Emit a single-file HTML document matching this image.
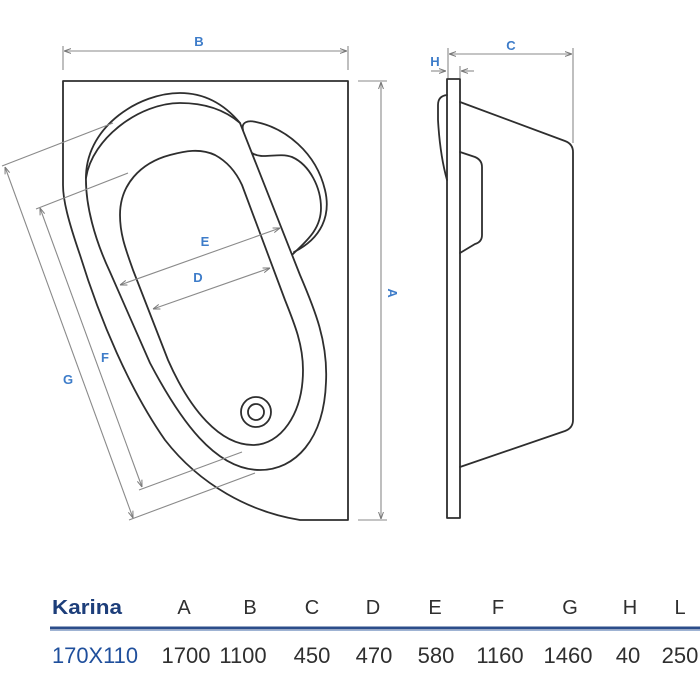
<!DOCTYPE html>
<html>
<head>
<meta charset="utf-8">
<style>
  html,body{margin:0;padding:0;background:#fff;}
  svg{display:block;}
  .o{fill:none;stroke:#2e2e2e;stroke-width:1.8;stroke-linejoin:round;stroke-linecap:round;}
  .d{fill:none;stroke:#8a8a8a;stroke-width:1.1;}
  .lbl{font-family:"Liberation Sans",sans-serif;font-weight:bold;fill:#3d7cc9;font-size:13px;}
  .hd{font-family:"Liberation Sans",sans-serif;fill:#2f2f2f;font-size:20px;}
  .val{font-family:"Liberation Sans",sans-serif;fill:#2f2f2f;font-size:22px;}
</style>
</head>
<body>
<svg width="700" height="700" viewBox="0 0 700 700" xmlns="http://www.w3.org/2000/svg">
  <defs>
    <marker id="ar" viewBox="0 0 10 10" refX="10" refY="5" markerWidth="7" markerHeight="7" orient="auto-start-reverse" markerUnits="userSpaceOnUse">
      <path d="M0,1.5 L10,5 L0,8.5" fill="none" stroke="#777" stroke-width="1.4"/>
    </marker>
  </defs>

  <!-- ===== Top view ===== -->
  <!-- outer deck shape -->
  <path class="o" d="M63,81 H348 V520 H300 C250,512 200,485 165,440 C130,390 100,320 80,255 C68,220 63,200 63,185 Z"/>

  <!-- rim outer line -->
  <path class="o" d="M240,123 L300,275 C315,310 328,342 326,382 C324,440 295,470 260,470 C215,470 180,420 150,363 L110,272 C95,240 85,205 86,175 C88,125 140,93 180,93 C205,93 225,105 240,123 Z"/>
  <!-- rim inner top line (double) -->
  <path class="o" d="M86,178 C92,138 140,103 180,103 C205,103 225,110 240,123"/>

  <!-- basin -->
  <path class="o" d="M120,215 C120,185 140,163 170,155 C185,151 200,148 215,155 C228,162 236,172 242,185 L285,300 C295,325 303,345 303,370 C303,415 280,445 253,445 C220,445 190,410 168,360 L133,270 C126,250 120,235 120,215 Z"/>

  <!-- headrest -->
  <path class="o" d="M243,130 C241,122 248,120 256,122 C285,128 316,152 325,190 C331,215 322,238 294,252"/>
  <path class="o" d="M252,153 C262,160 278,152 292,157 C310,165 321,188 321,208 C321,230 305,242 293,254"/>

  <!-- drain -->
  <circle class="o" cx="256" cy="412" r="15" stroke-width="1.6"/>
  <circle class="o" cx="256" cy="412" r="8" stroke-width="1.6"/>

  <!-- B dimension -->
  <line class="d" x1="63" y1="46" x2="63" y2="70"/>
  <line class="d" x1="348" y1="46" x2="348" y2="70"/>
  <line class="d" x1="64" y1="51" x2="347" y2="51" marker-start="url(#ar)" marker-end="url(#ar)"/>
  <text class="lbl" x="199" y="46" text-anchor="middle">B</text>

  <!-- A dimension -->
  <line class="d" x1="358" y1="81" x2="387" y2="81"/>
  <line class="d" x1="358" y1="520" x2="387" y2="520"/>
  <line class="d" x1="381" y1="82" x2="381" y2="519" marker-start="url(#ar)" marker-end="url(#ar)"/>
  <text class="lbl" x="0" y="0" text-anchor="middle" transform="translate(388,293) rotate(90)">A</text>

  <!-- G dimension -->
  <line class="d" x1="2" y1="166" x2="113" y2="123"/>
  <line class="d" x1="129" y1="520" x2="255" y2="473"/>
  <line class="d" x1="5" y1="167" x2="133" y2="518" marker-start="url(#ar)" marker-end="url(#ar)"/>
  <text class="lbl" x="68" y="384" text-anchor="middle">G</text>

  <!-- F dimension -->
  <line class="d" x1="36" y1="209" x2="128" y2="173"/>
  <line class="d" x1="139" y1="490" x2="242" y2="452"/>
  <line class="d" x1="40" y1="208" x2="142" y2="487" marker-start="url(#ar)" marker-end="url(#ar)"/>
  <text class="lbl" x="105" y="362" text-anchor="middle">F</text>

  <!-- E dimension -->
  <line class="d" x1="120" y1="285" x2="280" y2="228" marker-start="url(#ar)" marker-end="url(#ar)"/>
  <text class="lbl" x="205" y="246" text-anchor="middle">E</text>

  <!-- D dimension -->
  <line class="d" x1="153" y1="309" x2="270" y2="268" marker-start="url(#ar)" marker-end="url(#ar)"/>
  <text class="lbl" x="198" y="282" text-anchor="middle">D</text>

  <!-- ===== Side view ===== -->
  <rect class="o" x="447" y="79" width="13" height="439"/>
  <path class="o" d="M460,102 L565,141 Q573,144 573,152 L573,420 Q573,428 565,431 L460,467"/>
  <path class="o" d="M460,152 L475,157 Q482,160 482,167 L482,235 Q482,242 475,244 L460,253"/>
  <path class="o" d="M447,95 Q438,96 438,105 L438,120 Q440,155 447,180"/>

  <!-- C dimension -->
  <line class="d" x1="573" y1="48" x2="573" y2="143"/>
  <line class="d" x1="448" y1="48" x2="448" y2="78"/>
  <line class="d" x1="449" y1="54" x2="572" y2="54" marker-start="url(#ar)" marker-end="url(#ar)"/>
  <text class="lbl" x="511" y="50" text-anchor="middle">C</text>

  <!-- H dimension -->
  <line class="d" x1="460" y1="66" x2="460" y2="78"/>
  <line class="d" x1="431" y1="71" x2="446" y2="71" marker-end="url(#ar)"/>
  <line class="d" x1="474" y1="71" x2="461" y2="71" marker-end="url(#ar)"/>
  <text class="lbl" x="435" y="66" text-anchor="middle">H</text>

  <!-- ===== Table ===== -->
  <text x="52" y="614" font-family="Liberation Sans, sans-serif" font-weight="bold" font-size="20" fill="#1d3e7a" textLength="70" lengthAdjust="spacingAndGlyphs">Karina</text>
  <text class="hd" x="184" y="614" text-anchor="middle">A</text>
  <text class="hd" x="250" y="614" text-anchor="middle">B</text>
  <text class="hd" x="312" y="614" text-anchor="middle">C</text>
  <text class="hd" x="373" y="614" text-anchor="middle">D</text>
  <text class="hd" x="435" y="614" text-anchor="middle">E</text>
  <text class="hd" x="498" y="614" text-anchor="middle">F</text>
  <text class="hd" x="570" y="614" text-anchor="middle">G</text>
  <text class="hd" x="630" y="614" text-anchor="middle">H</text>
  <text class="hd" x="680" y="614" text-anchor="middle">L</text>

  <line x1="50" y1="628" x2="700" y2="628" stroke="#2b4d8a" stroke-width="3"/>
  <line x1="50" y1="630.5" x2="700" y2="630.5" stroke="#9fb3d3" stroke-width="1"/>

  <text x="52" y="663" font-family="Liberation Sans, sans-serif" font-size="22" fill="#1f4f9c" textLength="86" lengthAdjust="spacingAndGlyphs">170X110</text>
  <text class="val" x="186" y="663" text-anchor="middle">1700</text>
  <text class="val" x="243" y="663" text-anchor="middle">1100</text>
  <text class="val" x="312" y="663" text-anchor="middle">450</text>
  <text class="val" x="374" y="663" text-anchor="middle">470</text>
  <text class="val" x="436" y="663" text-anchor="middle">580</text>
  <text class="val" x="500" y="663" text-anchor="middle">1160</text>
  <text class="val" x="568" y="663" text-anchor="middle">1460</text>
  <text class="val" x="628" y="663" text-anchor="middle">40</text>
  <text class="val" x="680" y="663" text-anchor="middle">250</text>
</svg>
</body>
</html>
